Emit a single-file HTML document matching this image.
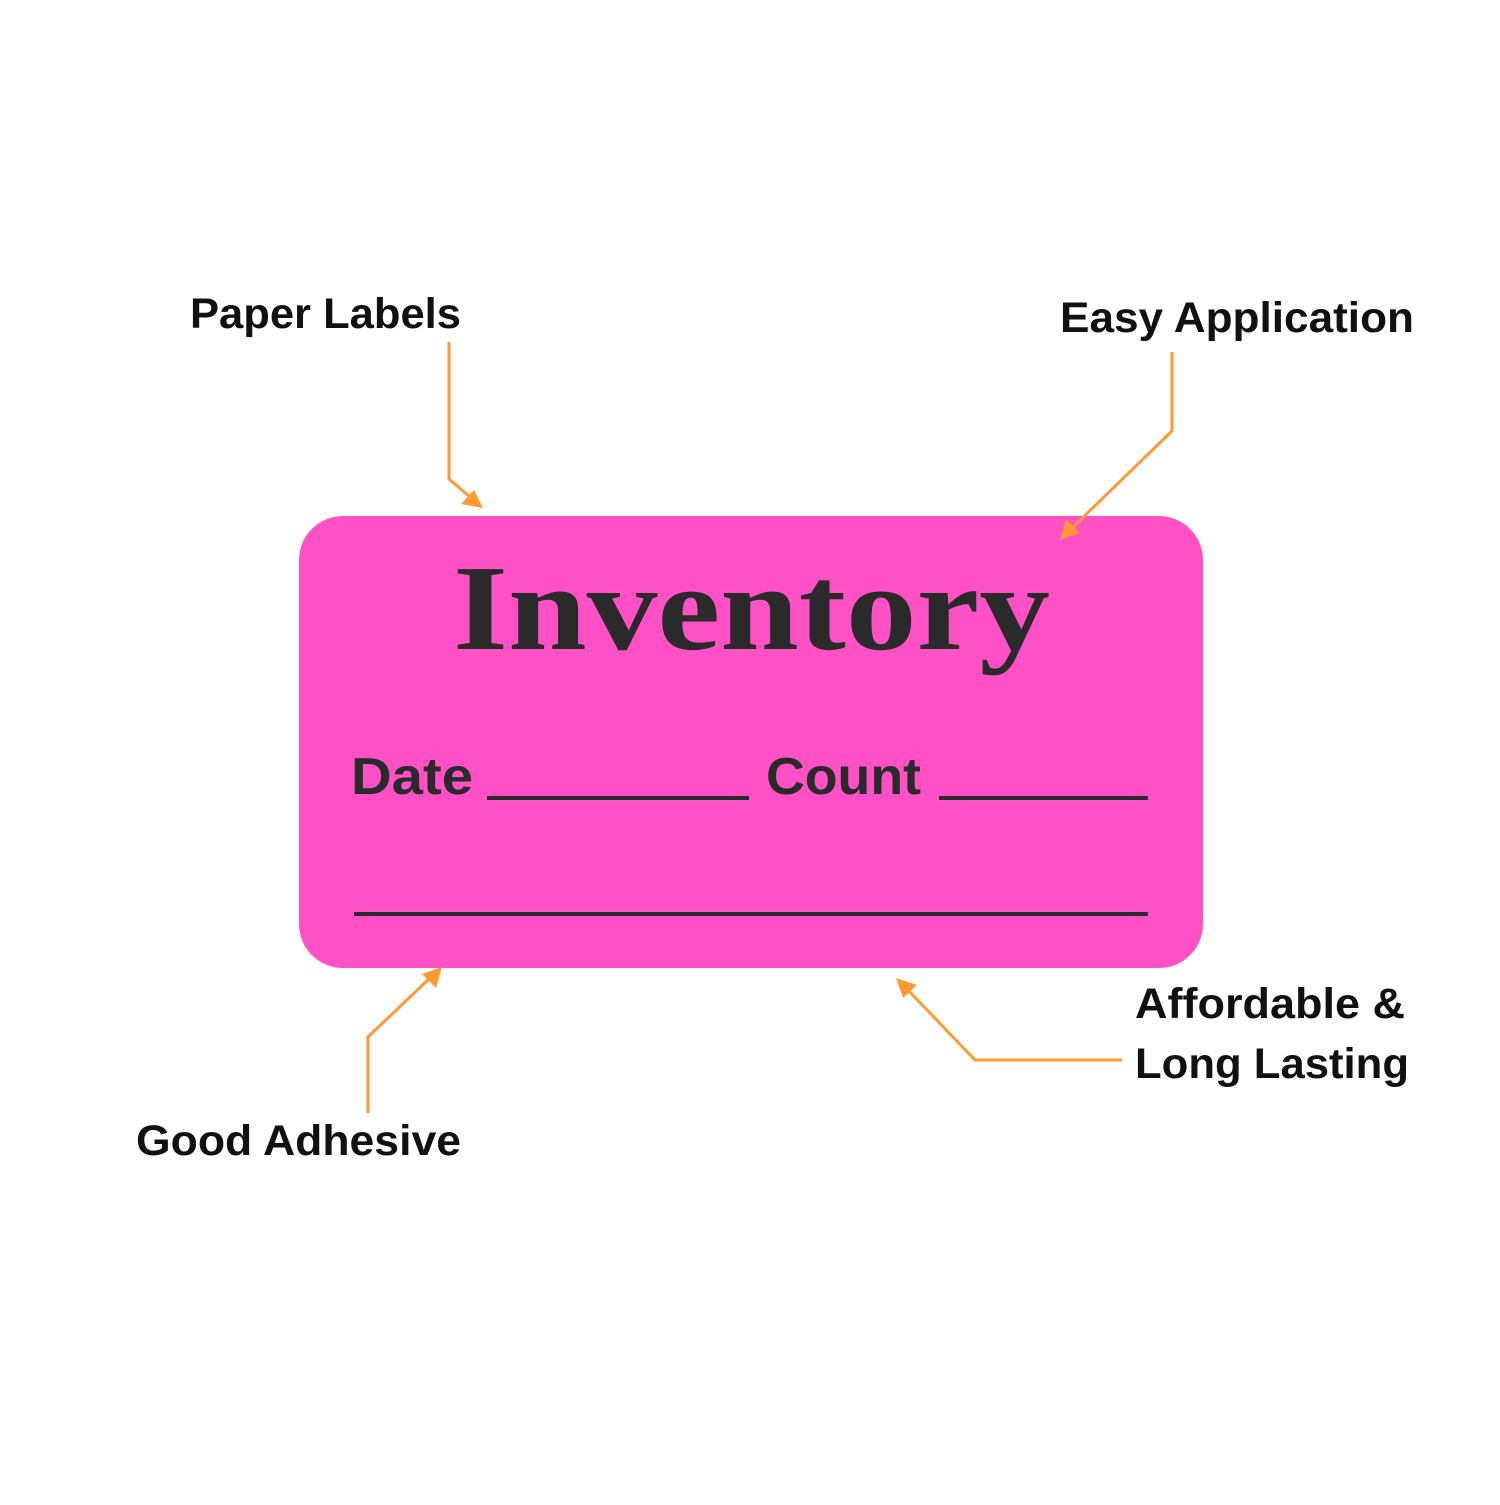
<!DOCTYPE html>
<html><head><style>body{margin:0;background:#fff}</style></head><body>
<svg width="1500" height="1500" viewBox="0 0 1500 1500" xmlns="http://www.w3.org/2000/svg">
<rect x="299" y="516" width="904" height="452" rx="44" fill="#ff50c5"/>
<text x="453" y="649" font-family="Liberation Serif, serif" font-weight="bold" font-size="122" fill="#2a2a2a" textLength="597" lengthAdjust="spacingAndGlyphs">Inventory</text>
<g font-family="Liberation Sans, sans-serif" font-weight="bold" font-size="52" fill="#2a2a2a">
<text x="351" y="794" textLength="122" lengthAdjust="spacingAndGlyphs">Date</text>
<text x="766" y="794" textLength="155" lengthAdjust="spacingAndGlyphs">Count</text>
</g>
<g stroke="#2a2a2a" stroke-width="4">
<line x1="487" y1="798" x2="749" y2="798"/>
<line x1="939" y1="798" x2="1148" y2="798"/>
<line x1="354" y1="914" x2="1148" y2="914"/>
</g>
<g font-family="Liberation Sans, sans-serif" font-weight="bold" font-size="43" fill="#111">
<text x="190" y="328" textLength="271" lengthAdjust="spacingAndGlyphs">Paper Labels</text>
<text x="1060" y="332" textLength="354" lengthAdjust="spacingAndGlyphs">Easy Application</text>
<text x="136" y="1155" textLength="325" lengthAdjust="spacingAndGlyphs">Good Adhesive</text>
<text x="1135" y="1018" textLength="270" lengthAdjust="spacingAndGlyphs">Affordable &amp;</text>
<text x="1135" y="1078" textLength="274" lengthAdjust="spacingAndGlyphs">Long Lasting</text>
</g>
<g stroke="#ff9933" stroke-width="3" fill="none">
<polyline points="449,342 449,479 470,497"/>
<polyline points="1172,352 1172,431 1072,528"/>
<polyline points="368,1113 368,1037 430,978"/>
<polyline points="1122,1060 975,1060 906,988"/>
</g>
<g fill="#ff9933">
<polygon points="483,508 461,504 474,490"/>
<polygon points="1060,540 1066,519 1080,533"/>
<polygon points="442,967 436,988 422,974"/>
<polygon points="896,978 917,985 903,998"/>
</g>
</svg>
</body></html>
